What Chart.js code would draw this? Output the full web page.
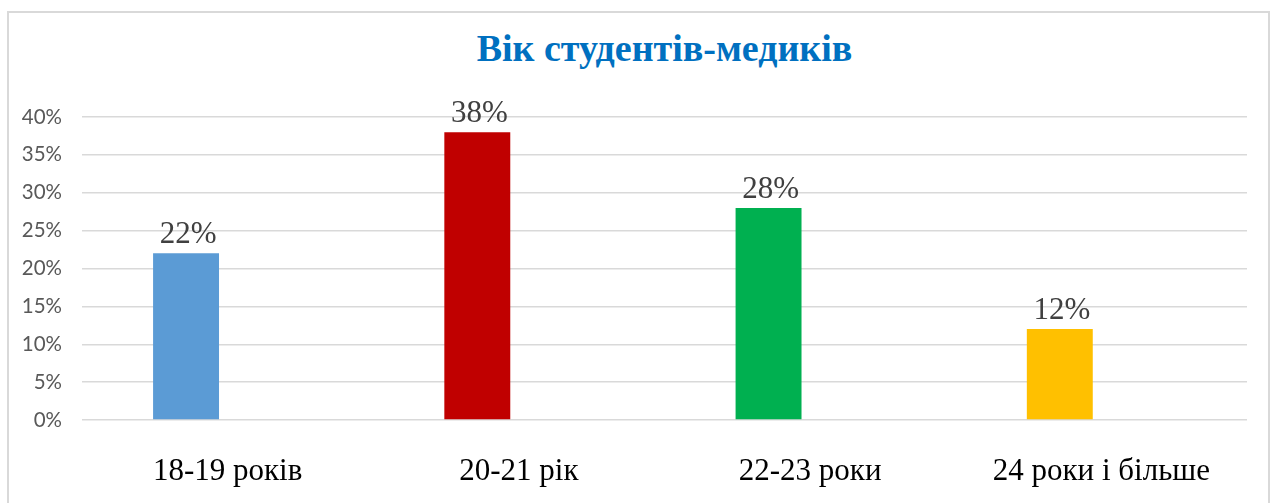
<!DOCTYPE html>
<html>
<head>
    <meta charset="utf-8">
    <title>Вік студентів-медиків</title>
    <script src="https://cdn.jsdelivr.net/npm/chart.js"></script>
    <style>
        html, body { margin: 0; padding: 0; background: #fff; }
        .frame {
            position: absolute; left: 7px; top: 11px; width: 1263px; height: 520px;
            border: 2px solid #d9d9d9; box-sizing: border-box;
        }
        .title {
            position: absolute; left: 82px; width: 1165px; top: 26px;
            text-align: center; color: #0070c0;
            font: bold 38px "Liberation Serif", "Times New Roman", serif;
        }
        .chart-box { position: absolute; left: 0; top: 0; width: 1277px; height: 503px; }
    </style>
</head>
<body>
    <div class="frame"></div>
    <div class="title">Вік студентів-медиків</div>
    <div class="chart-box"><canvas id="ageChart"></canvas></div>

    <script>
        const categories = ['18-19 років', '20-21 рік', '22-23 роки', '24 роки і більше'];
        const values = [22, 38, 28, 12];
        const barColors = ['#5b9bd5', '#c00000', '#00b050', '#ffc000'];
        const emptySeries = [null, null, null, null];
        const yTicks = [0, 5, 10, 15, 20, 25, 30, 35, 40];

        const valueLabels = {
            id: 'valueLabels',
            afterDatasetsDraw(chart) {
                const ctx = chart.ctx;
                const meta = chart.getDatasetMeta(0);
                ctx.save();
                ctx.font = '31px "Liberation Serif", "Times New Roman", serif';
                ctx.fillStyle = '#404040';
                ctx.textAlign = 'center';
                ctx.textBaseline = 'alphabetic';
                meta.data.forEach((bar, i) => {
                    ctx.fillText(values[i] + '%', bar.x + 2, bar.y - 10);
                });
                ctx.restore();
            }
        };

        const ctx = document.getElementById('ageChart').getContext('2d');
        new Chart(ctx, {
            type: 'bar',
            data: {
                labels: categories,
                datasets: [{
                    data: values,
                    backgroundColor: barColors,
                    categoryPercentage: 0.571,
                    barPercentage: 0.793
                }, {
                    data: emptySeries,
                    categoryPercentage: 0.571,
                    barPercentage: 0.793
                }]
            },
            options: {
                responsive: true,
                maintainAspectRatio: false,
                animation: false,
                layout: { padding: { left: 0, right: 30, top: 117, bottom: 0 } },
                plugins: {
                    legend: { display: false },
                    tooltip: { enabled: false }
                },
                scales: {
                    x: {
                        grid: { display: false },
                        border: { display: false },
                        ticks: {
                            color: '#000',
                            padding: 25,
                            font: { family: '"Liberation Serif", "Times New Roman", serif', size: 31 }
                        },
                        afterFit(scale) { scale.height = 83; }
                    },
                    y: {
                        min: 0,
                        max: 40,
                        afterBuildTicks(scale) { scale.ticks = yTicks.map(v => ({ value: v })); },
                        grid: { color: '#d9d9d9', lineWidth: 1.5, drawTicks: false },
                        border: { display: false },
                        ticks: {
                            color: '#595959',
                            padding: 20,
                            font: { family: 'Lato', size: 20.5 },
                            callback: v => v + '%'
                        },
                        afterFit(scale) { scale.width = 82; }
                    }
                }
            },
            plugins: [valueLabels]
        });
    </script>
</body>
</html>
